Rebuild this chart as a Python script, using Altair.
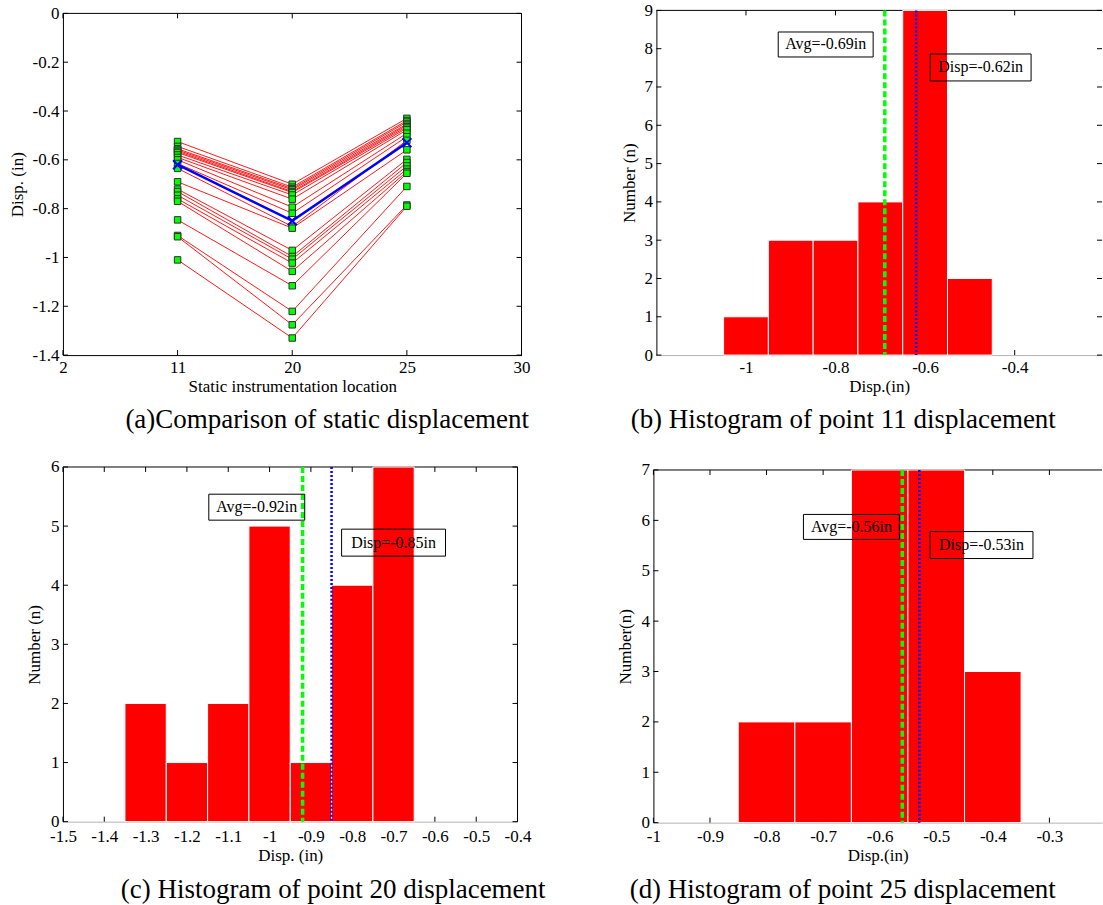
import altair as alt
import pandas as pd

FONT = "Liberation Serif"

# ---------------------------------------------------------------------------
# Static displacement (in) of every run at the three instrumented points
# ---------------------------------------------------------------------------
location_ticks = ["2", "11", "20", "25", "30"]
measured_at = ["11", "20", "25"]
disp_pt11 = [-0.525, -0.545, -0.555, -0.560, -0.565, -0.570, -0.580, -0.590, -0.600, -0.615, -0.635,
             -0.690, -0.720, -0.730, -0.745, -0.760, -0.770, -0.846, -0.910, -0.915, -1.010]
disp_pt20 = [-0.700, -0.712, -0.718, -0.723, -0.730, -0.734, -0.744, -0.761, -0.794, -0.819, -0.873,
             -0.880, -0.971, -0.996, -1.007, -1.023, -1.057, -1.116, -1.221, -1.276, -1.330]
disp_pt25 = [-0.430, -0.439, -0.445, -0.453, -0.458, -0.464, -0.470, -0.477, -0.491, -0.505, -0.520,
             -0.559, -0.598, -0.611, -0.625, -0.638, -0.648, -0.655, -0.709, -0.785, -0.790]
design_disp = [-0.62, -0.85, -0.53]   # reference (design) displacement per point
avg_disp = [-0.69, -0.92, -0.56]      # average of the runs per point

# Histogram bins (centres, width 0.1 in) and counts
bins_pt11 = [-1.0, -0.9, -0.8, -0.7, -0.6, -0.5]
count_pt11 = [1, 3, 3, 4, 9, 2]
bins_pt20 = [-1.3, -1.2, -1.1, -1.0, -0.9, -0.8, -0.7]
count_pt20 = [2, 1, 2, 5, 1, 4, 6]
bins_pt25 = [-0.8, -0.7, -0.6, -0.5, -0.4]
count_pt25 = [2, 2, 7, 7, 3]
BIN_W = 0.1

AXIS_COMMON = dict(
    ticks=False, grid=False, labelFont=FONT, labelFontSize=17, labelColor="black",
    titleFont=FONT, titleFontSize=17, titleFontWeight="normal", titleColor="black",
    domainColor="black", domainWidth=1, labelFlush=False, labelOverlap=False,
)
TICK = 5


def caption(text, dx):
    return alt.TitleParams(text=text, orient="bottom", anchor="middle", font=FONT, fontSize=27,
                           fontWeight="normal", color="black", offset=13, dx=dx)


def frame_layers(xenc_type, xvals, xscale, xaxis, yvals, yscale, yaxis, w, h, top,
                 right_border, right_ticks):
    """Box edges and inward-pointing ticks on all four sides (these layers carry the axes)."""
    layers = []
    xt = alt.Chart(pd.DataFrame({"tx": xvals})).mark_rule(color="black", strokeWidth=1)
    X = alt.X(f"tx:{xenc_type}", scale=xscale, axis=xaxis)
    layers.append(xt.encode(x=X, y=alt.value(h), y2=alt.value(h - TICK)))
    layers.append(xt.encode(x=X, y=alt.value(top), y2=alt.value(top + TICK)))
    yt = alt.Chart(pd.DataFrame({"ty": yvals})).mark_rule(color="black", strokeWidth=1)
    Y = alt.Y("ty:Q", scale=yscale, axis=yaxis)
    layers.append(yt.encode(y=Y, x=alt.value(0), x2=alt.value(TICK)))
    if right_ticks:
        layers.append(yt.encode(y=Y, x=alt.value(w - TICK), x2=alt.value(w)))
    edge = alt.Chart(pd.DataFrame({"e": [0]})).mark_rule(color="black", strokeWidth=1)
    layers.append(edge.encode(x=alt.value(0), x2=alt.value(w), y=alt.value(top)))
    if right_border:
        layers.append(edge.encode(x=alt.value(w), y=alt.value(top), y2=alt.value(h)))
    return layers


# ---------------------------------------------------------------------------
# (a) displacement of every run along the instrumented points
# ---------------------------------------------------------------------------
rows = []
for run in range(len(disp_pt11)):
    for k, (loc, vals) in enumerate(zip(measured_at, [disp_pt11, disp_pt20, disp_pt25])):
        rows.append({"run": run, "loc": loc, "ord": k, "disp": vals[run]})
runs_df = pd.DataFrame(rows)
design_df = pd.DataFrame({"loc": measured_at, "ord": [0, 1, 2], "disp": design_disp})

WA, HA, TA = 459, 345, 3
xs_a = alt.Scale(type="point", domain=location_ticks, padding=0)
ys_a = alt.Scale(domain=[-1.4, 0], range=[HA, TA], nice=False, zero=False)
y_ticks_a = [0, -0.2, -0.4, -0.6, -0.8, -1, -1.2, -1.4]
xaxis_a = alt.Axis(title="Static instrumentation location", labelAngle=0, titlePadding=3,
                   labelPadding=4, **AXIS_COMMON)
yaxis_a = alt.Axis(title="Disp. (in)", values=y_ticks_a, labelExpr="'' + datum.value",
                   titlePadding=6, labelPadding=4, **AXIS_COMMON)

xa = alt.X("loc:O", scale=xs_a, axis=xaxis_a)
ya = alt.Y("disp:Q", scale=ys_a, axis=yaxis_a)

run_lines = alt.Chart(runs_df).mark_line(color="#ff0000", strokeWidth=0.9).encode(
    x=xa, y=ya, detail="run:N", order="ord:Q")
run_pts = alt.Chart(runs_df).mark_square(size=42, fill="#00ff00", stroke="#303030",
                                         strokeWidth=1, opacity=1).encode(x=xa, y=ya)
design_line = alt.Chart(design_df).mark_line(color="#0000ff", strokeWidth=2.5).encode(
    x=xa, y=ya, order="ord:Q")
design_pts = alt.Chart(design_df).mark_point(shape="M-1,-1L1,1M-1,1L1,-1", size=80, filled=False,
                                             color="#0000ff", strokeWidth=2, opacity=1).encode(x=xa, y=ya)

panel_a = alt.layer(
    *frame_layers("O", location_ticks, xs_a, xaxis_a, y_ticks_a, ys_a, yaxis_a, WA, HA, TA, True, True),
    run_lines, run_pts, design_line, design_pts,
).properties(width=WA, height=HA, title=caption("(a)Comparison of static displacement", 35))


# ---------------------------------------------------------------------------
# (b)-(d) histograms of the displacement at one point
# ---------------------------------------------------------------------------
def hist_panel(centres, counts, avg, design, xdom, xticks, ymax, w, h, top, xtitle, ytitle,
               cap_text, cap_dx, notes, right_border, right_ticks, ytitle_pad=6, xlabel_pad=4):
    df = pd.DataFrame({"lo": [c - BIN_W / 2 for c in centres],
                       "hi": [c + BIN_W / 2 for c in centres],
                       "n": counts})
    xs = alt.Scale(domain=xdom, nice=False, zero=False)
    ys = alt.Scale(domain=[0, ymax], range=[h, top], nice=False)
    yvals = list(range(0, ymax + 1))
    xaxis = alt.Axis(title=xtitle, values=xticks, labelExpr="'' + datum.value", titlePadding=3,
                     labelPadding=xlabel_pad, **{**AXIS_COMMON, "domainColor": "#b4b4b4"})
    yaxis = alt.Axis(title=ytitle, values=yvals, titlePadding=ytitle_pad, labelPadding=4,
                     **AXIS_COMMON)
    bars = alt.Chart(df).mark_rect(color="#ff0000", stroke="#ffffff", strokeWidth=1,
                                   opacity=1).encode(
        x=alt.X("lo:Q", scale=xs, axis=xaxis), x2="hi:Q",
        y=alt.Y("n:Q", scale=ys, axis=yaxis), y2=alt.datum(0))
    vl = pd.DataFrame({"v": [avg, design]})
    avg_rule = alt.Chart(vl.iloc[[0]]).mark_rule(color="#00ff00", strokeWidth=3.5,
                                                 strokeDash=[6, 3]).encode(
        x=alt.X("v:Q", scale=xs, axis=xaxis), y=alt.value(top), y2=alt.value(h))
    des_rule = alt.Chart(vl.iloc[[1]]).mark_rule(color="#0000ff", strokeWidth=2.5,
                                                 strokeDash=[2, 2]).encode(
        x=alt.X("v:Q", scale=xs, axis=xaxis), y=alt.value(top), y2=alt.value(h))
    note_layers = []
    for text, cx, cy, bw, bh in notes:
        nd = pd.DataFrame({"cx": [cx], "cy": [cy], "label": [text]})
        nx = alt.X("cx:Q", scale=xs, axis=xaxis)
        ny = alt.Y("cy:Q", scale=ys, axis=yaxis)
        note_layers.append(alt.Chart(nd).mark_rect(
            fillOpacity=0, stroke="black", strokeWidth=1,
            xOffset=-bw / 2, x2Offset=bw / 2, yOffset=-bh / 2, y2Offset=bh / 2).encode(
            x=nx, x2="cx:Q", y=ny, y2="cy:Q"))
        note_layers.append(alt.Chart(nd).mark_text(font=FONT, fontSize=16, color="black").encode(
            x=nx, y=ny, text="label:N"))
    return alt.layer(
        *frame_layers("Q", xticks, xs, xaxis, yvals, ys, yaxis, w, h, top, right_border, right_ticks),
        bars, avg_rule, des_rule, *note_layers,
    ).properties(width=w, height=h, title=caption(cap_text, cap_dx))


panel_b = hist_panel(
    bins_pt11, count_pt11, avg_disp[0], design_disp[0], [-1.2, -0.205], [-1, -0.8, -0.6, -0.4], 9,
    446, 345, 0, "Disp.(in)", "Number (n)", "(b) Histogram of point 11 displacement", -36,
    [("Avg=-0.69in", -0.822, 8.11, 95, 25), ("Disp=-0.62in", -0.476, 7.51, 101, 27)],
    right_border=False, right_ticks=True, ytitle_pad=5)

panel_c = hist_panel(
    bins_pt20, count_pt20, avg_disp[1], design_disp[1], [-1.5, -0.4],
    [-1.5, -1.4, -1.3, -1.2, -1.1, -1, -0.9, -0.8, -0.7, -0.6, -0.5, -0.4], 6,
    455, 355, 0, "Disp. (in)", "Number (n)", "(c) Histogram of point 20 displacement", 43,
    [("Avg=-0.92in", -1.031, 5.32, 96, 26), ("Disp=-0.85in", -0.700, 4.72, 104, 27)],
    right_border=True, right_ticks=True, ytitle_pad=7, xlabel_pad=7)

panel_d = hist_panel(
    bins_pt25, count_pt25, avg_disp[2], design_disp[2], [-1.0, -0.207],
    [-1, -0.9, -0.8, -0.7, -0.6, -0.5, -0.4, -0.3], 7,
    449, 356, 3, "Disp.(in)", "Number(n)", "(d) Histogram of point 25 displacement", -35,
    [("Avg=-0.56in", -0.650, 5.87, 96, 25), ("Disp=-0.53in", -0.420, 5.51, 103, 27)],
    right_border=False, right_ticks=False, ytitle_pad=6, xlabel_pad=6)

top_row = alt.hconcat(panel_a, panel_b, spacing=135, bounds="flush")
bottom_row = alt.hconcat(panel_c, panel_d, spacing=136, bounds="flush")

chart = alt.vconcat(top_row, bottom_row, spacing=23).properties(
    padding={"left": 7, "top": 0, "right": 0, "bottom": 0},
    background="white",
).configure_view(stroke="transparent")

chart.save("out.html", embed_options={"renderer": "svg", "actions": False})
